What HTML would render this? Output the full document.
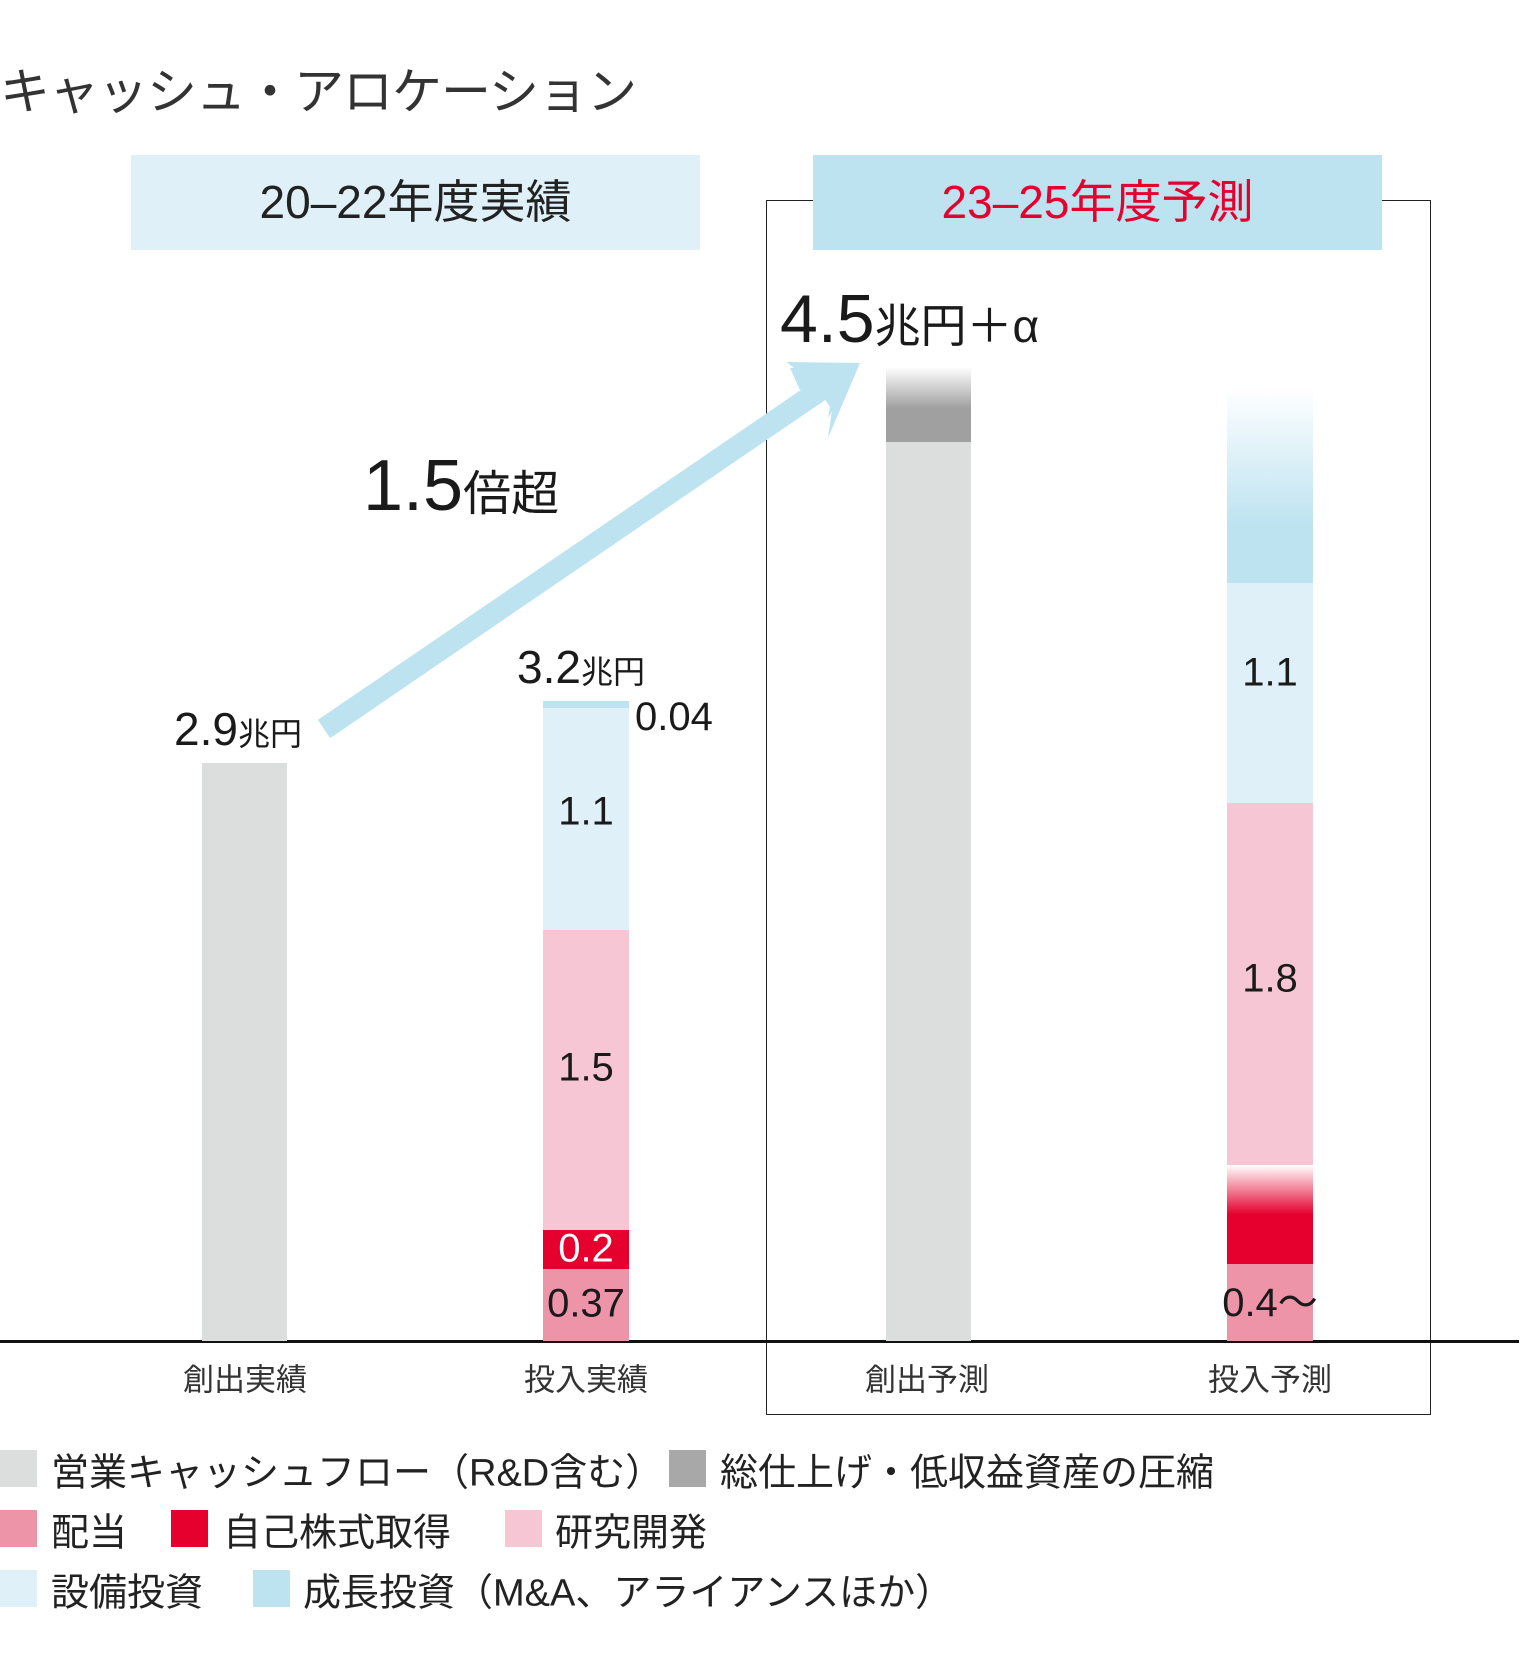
<!DOCTYPE html>
<html><head><meta charset="utf-8"><style>
body{margin:0;width:1521px;height:1660px;background:#fff;position:relative;overflow:hidden;font-family:"Liberation Sans","Noto Sans CJK JP",sans-serif;color:#1a1a1a}
.a{position:absolute;white-space:nowrap}
.c{transform:translate(-50%,-50%)}
.sw{position:absolute;width:37px;height:37px}
.lg{position:absolute;font-size:38px;color:#222;transform:translateY(-50%)}
</style></head><body>
<div class="a" style="left:0;top:52px;font-size:50px;color:#333;letter-spacing:-1px">キャッシュ・アロケーション</div>
<div class="a" style="left:131px;top:155px;width:569px;height:95px;background:#dff0f8;font-size:46px;text-align:center;line-height:95px;color:#222">20–22年度実績</div>
<div class="a" style="left:766px;top:200px;width:665px;height:1215px;border:1.5px solid #222;box-sizing:border-box"></div>
<div class="a" style="left:813px;top:155px;width:569px;height:95px;background:#bde3f1;font-size:46px;text-align:center;line-height:95px;color:#e5002d">23–25年度予測</div>

<div class="a" style="left:0;top:1340px;width:1519px;height:3px;background:#111"></div>

<div class="a" style="left:202px;top:763px;width:85px;height:578px;background:#dcdddd"></div>
<div class="a" style="left:543px;top:701px;width:86px;height:7px;background:#bde3f1"></div>
<div class="a" style="left:543px;top:708px;width:86px;height:222px;background:#dff0f8"></div>
<div class="a" style="left:543px;top:930px;width:86px;height:300px;background:#f6c6d4"></div>
<div class="a" style="left:543px;top:1230px;width:86px;height:39px;background:#e5002d"></div>
<div class="a" style="left:543px;top:1269px;width:86px;height:72px;background:#ee94a9"></div>
<div class="a" style="left:886px;top:367px;width:85px;height:75px;background:linear-gradient(#fff,#a0a0a0 55%,#a0a0a0)"></div>
<div class="a" style="left:886px;top:442px;width:85px;height:899px;background:#dcdddd"></div>
<div class="a" style="left:1227px;top:388px;width:86px;height:195px;background:linear-gradient(#fff,#bde3f1 70%,#bde3f1)"></div>
<div class="a" style="left:1227px;top:583px;width:86px;height:220px;background:#dff0f8"></div>
<div class="a" style="left:1227px;top:803px;width:86px;height:362px;background:#f6c6d4"></div>
<div class="a" style="left:1227px;top:1165px;width:86px;height:99px;background:linear-gradient(#fff,#e5002d 50%,#e5002d)"></div>
<div class="a" style="left:1227px;top:1264px;width:86px;height:77px;background:#ee94a9"></div>

<svg class="a" style="left:0;top:0" width="1521" height="1660">
<line x1="324" y1="729" x2="835" y2="380" stroke="#bde3f1" stroke-width="22"/>
<polygon points="860,363 790,368 800,390 835,380 828,418" fill="#bde3f1"/>
<polygon points="860,363 786,362 812,380 832,410 828,438" fill="#bde3f1"/>
</svg>

<div class="a" style="left:174px;top:702px;font-size:46px">2.9<span style="font-size:32px">兆円</span></div>
<div class="a" style="left:517px;top:640px;font-size:46px">3.2<span style="font-size:32px">兆円</span></div>
<div class="a" style="left:635px;top:695px;font-size:40px">0.04</div>
<div class="a c" style="left:586px;top:812px;font-size:40px">1.1</div>
<div class="a c" style="left:586px;top:1068px;font-size:40px">1.5</div>
<div class="a c" style="left:586px;top:1249px;font-size:40px;color:#fff">0.2</div>
<div class="a c" style="left:586px;top:1304px;font-size:40px">0.37</div>
<div class="a" style="left:780px;top:280px;font-size:68px">4.5<span style="font-size:46px">兆円＋α</span></div>
<div class="a" style="left:363px;top:445px;font-size:72px">1.5<span style="font-size:48px">倍超</span></div>
<div class="a c" style="left:1270px;top:673px;font-size:40px">1.1</div>
<div class="a c" style="left:1270px;top:979px;font-size:40px">1.8</div>
<div class="a c" style="left:1270px;top:1299px;font-size:40px">0.4～</div>

<div class="a c" style="left:245px;top:1377px;font-size:31px;color:#333">創出実績</div>
<div class="a c" style="left:586px;top:1377px;font-size:31px;color:#333">投入実績</div>
<div class="a c" style="left:927px;top:1377px;font-size:31px;color:#333">創出予測</div>
<div class="a c" style="left:1270px;top:1377px;font-size:31px;color:#333">投入予測</div>

<div class="sw" style="left:0;top:1450px;background:#dcdddd"></div><div class="lg" style="left:51px;top:1469px">営業キャッシュフロー（R&amp;D含む）</div>
<div class="sw" style="left:669px;top:1450px;background:#a8a8a8"></div><div class="lg" style="left:720px;top:1469px">総仕上げ・低収益資産の圧縮</div>
<div class="sw" style="left:0;top:1510px;background:#ee94a9"></div><div class="lg" style="left:51px;top:1529px">配当</div>
<div class="sw" style="left:171px;top:1510px;background:#e5002d"></div><div class="lg" style="left:223px;top:1529px">自己株式取得</div>
<div class="sw" style="left:505px;top:1510px;background:#f6c6d4"></div><div class="lg" style="left:555px;top:1529px">研究開発</div>
<div class="sw" style="left:0;top:1570px;background:#dff0f8"></div><div class="lg" style="left:51px;top:1589px">設備投資</div>
<div class="sw" style="left:253px;top:1570px;background:#bde3f1"></div><div class="lg" style="left:303px;top:1589px">成長投資（M&amp;A、アライアンスほか）</div>
</body></html>
